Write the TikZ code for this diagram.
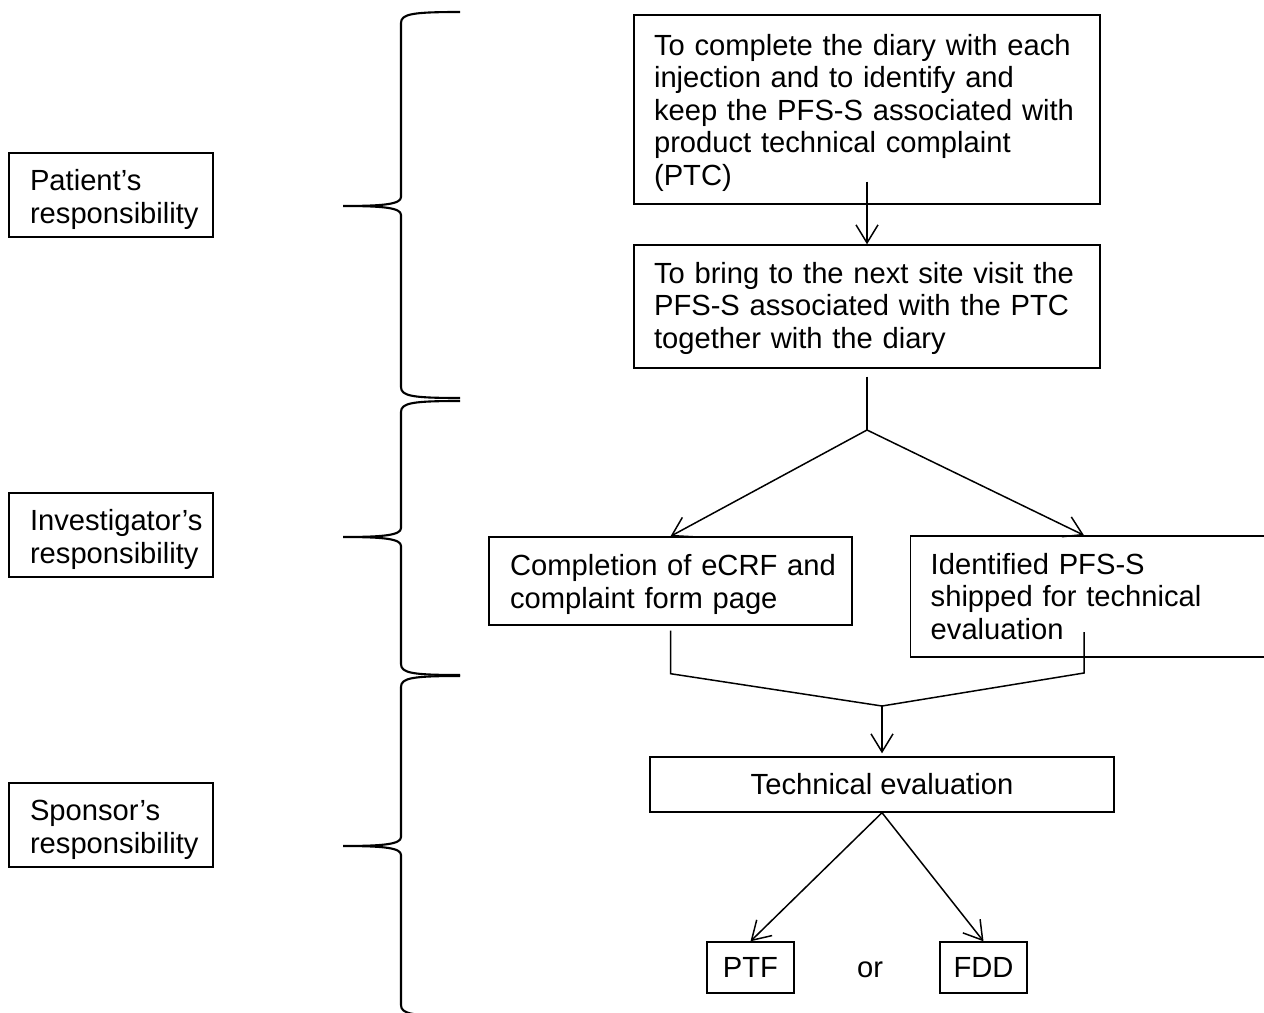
\documentclass[tikz,border=0pt]{standalone}
\usepackage{fontspec}
\setmainfont{Liberation Sans}
\usetikzlibrary{arrows.meta}
\hyphenpenalty=10000
\exhyphenpenalty=10000
\tikzset{
    box/.style={draw, line width=0.8pt, rectangle, align=left, inner ysep=0pt},
    role/.style={box, text width=3.24cm, inner xsep=0.42cm, minimum height=1.68cm,
        execute at begin node={\rule{0pt}{17pt}}},
    link/.style={line width=0.85pt},
    flow/.style={link, -{Straight Barb[length=0.36cm,width=0.44cm]}},
    brace/.style={line width=1.2pt},
}
% curly brace: top end, tip, bottom end (y values)
\newcommand{\respbrace}[3]{%
    \draw[brace] (460,#1) .. controls (412,#1) and (401,#1+2) .. (401,#1+11)
        -- (401,#2-9) .. controls (401,#2-2) and (385,#2) .. (343,#2)
        .. controls (385,#2) and (401,#2+2) .. (401,#2+9)
        -- (401,#3-11) .. controls (401,#3-2) and (412,#3) .. (460,#3);
}

\begin{document}
\begin{tikzpicture}[x=0.02cm,y=-0.02cm,font=\fontsize{16.6}{18.5}\selectfont]
\clip (0,0) rectangle (1264,1013);

% who is responsible
\node[role] (pat) at (111,195) {Patient's\\responsibility};
\node[role] (inv) at (111,535) {Investigator's\\responsibility};
\node[role] (spo) at (111,825) {Sponsor's\\responsibility};
\respbrace{12}{206}{398}
\respbrace{401}{537}{675}
\respbrace{676}{846}{1016}

% flow
\node[box, text width=8.52cm, inner xsep=0.4cm, minimum height=3.78cm,
    execute at begin node={\rule{0pt}{15.5pt}}] (diary) at (867,109.5) {To complete the diary with each\\injection and to identify and\\keep the PFS-S associated with\\product technical complaint\\(PTC)};
\node[box, text width=8.52cm, inner xsep=0.4cm, minimum height=2.46cm,
    execute at begin node={\rule{0pt}{14pt}}] (bring) at (867,306.5) {To bring to the next site visit the\\PFS-S associated with the PTC\\together with the diary};
\node[box, text width=6.42cm, inner xsep=0.42cm, minimum height=1.76cm,
    execute at begin node={\rule{0pt}{16pt}}] (ecrf) at (670.5,581) {Completion~of~eCRF~and\\complaint form page};
\node[box, anchor=west, text width=7cm, inner xsep=0.4cm, minimum height=2.42cm] (ship) at (910,596.5) {Identified PFS-S\\shipped for technical\\evaluation};
\node[box, minimum width=9.28cm, minimum height=1.1cm] (teval) at (882,784.5) {Technical evaluation};
\node[box, minimum width=1.74cm, minimum height=1.02cm] (ptf) at (750.5,967.5) {PTF};
\node[box, minimum width=1.74cm, minimum height=1.02cm] (fdd) at (983.5,967.5) {FDD};
\node (or) at (870,970) {or};

\coordinate (fork) at (867,430);
\coordinate (join) at (882,706);
\coordinate (shipout) at (1084,632);

\draw[flow] ([yshift=0.46cm]diary.south) -- (bring.north);
\draw[link] ([yshift=-0.16cm]bring.south) -- (fork);
\draw[flow] (fork) -- (ecrf.north);
\draw[flow] (fork) -- (shipout |- ship.north);
\draw[link] ([yshift=-0.1cm]ecrf.south) -- ++(0,43) -- (join);
\draw[link] (shipout) -- ++(0,41) -- (join);
\draw[flow, shorten >=0.06cm] (join) -- (teval.north);
\draw[flow] (teval.south) -- (ptf.north);
\draw[flow] (teval.south) -- (fdd.north);
\end{tikzpicture}
\end{document}
